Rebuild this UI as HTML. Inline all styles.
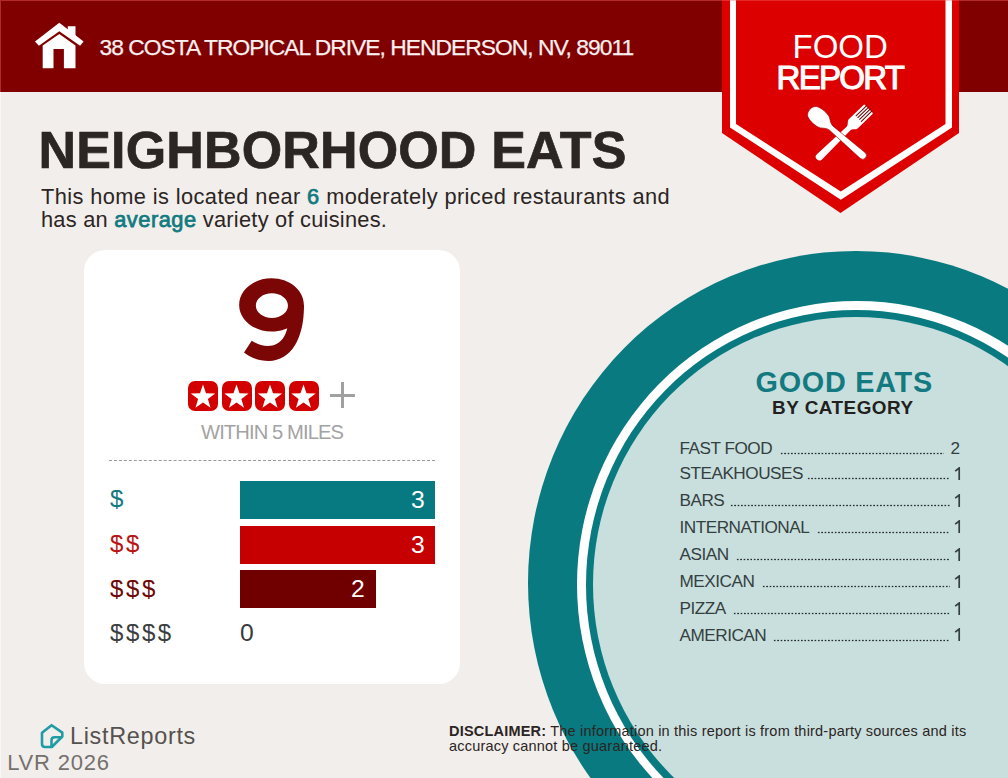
<!DOCTYPE html>
<html><head><meta charset="utf-8">
<style>
html,body{margin:0;padding:0;}
body{width:1008px;height:778px;overflow:hidden;position:relative;background:#f2eeeb;font-family:"Liberation Sans",sans-serif;}
.a{position:absolute;white-space:nowrap;line-height:1;}
#hdr{position:absolute;left:0;top:0;width:1008px;height:91.5px;background:#800000;}
#addr{left:99.5px;top:35.5px;font-size:22.8px;color:#fbf0f0;letter-spacing:-0.97px;-webkit-text-stroke:0.25px #fbf0f0;}
#title{left:38.5px;top:124px;letter-spacing:0.15px;font-size:52px;font-weight:bold;color:#2b2523;-webkit-text-stroke:0.7px #2b2523;}
.sub{left:41px;font-size:21.8px;color:#2b2523;letter-spacing:0.4px;}
.tl{color:#127a80;-webkit-text-stroke:0.75px #127a80;letter-spacing:0.5px;}
#card{position:absolute;left:84px;top:250px;width:376px;height:434px;background:#fff;border-radius:21px;}
.star{position:absolute;top:381px;width:30px;height:30px;background:#d20000;border-radius:7px;}
#plus1{position:absolute;left:330px;top:394px;width:25px;height:3px;background:#a0a0a0;}
#plus2{position:absolute;left:341px;top:382px;width:3px;height:26px;background:#a0a0a0;}
#within{left:201px;top:421.5px;font-size:20.2px;color:#a3a3a3;letter-spacing:-0.9px;}
#dash{position:absolute;left:109px;top:460px;width:326px;height:0;border-top:1.5px dashed #999;}
.bar{position:absolute;left:240px;height:38px;}
.bn{position:absolute;font-size:24.7px;color:#fff;line-height:1;}
.dl{left:110px;font-size:24px;letter-spacing:2.6px;}
#circ{position:absolute;left:527.5px;top:250.7px;width:656px;height:664.4px;border-radius:50%;background:#087a80;}
#ring{position:absolute;left:576.7px;top:301px;width:560px;height:567.4px;border-radius:50%;background:#fff;}
#ring2{position:absolute;left:585.8px;top:309.9px;width:540.4px;height:549.8px;border-radius:50%;background:#087a80;}
#fill{position:absolute;left:593.3px;top:317.3px;width:526px;height:535px;border-radius:50%;background:#c9dfdd;}
#ge{left:755.5px;top:368px;font-size:28.8px;font-weight:bold;color:#127a80;letter-spacing:0.75px;}
#bc{left:772px;top:398.5px;font-size:18.9px;font-weight:bold;color:#231f20;letter-spacing:0.5px;}
.ln{font-size:17.2px;color:#344040;letter-spacing:-0.5px;}
.dt{position:absolute;height:3px;background-image:radial-gradient(circle at 1.7px 1.5px,#243030 0.7px,rgba(36,48,48,0) 1.15px);background-size:3.4px 3px;}
#disc{left:449px;top:724px;font-size:14.5px;letter-spacing:0.2px;color:#2b2523;line-height:15.3px;}
#lr{left:70px;top:725.3px;font-size:23.4px;color:#55514e;letter-spacing:0.7px;}
#lvr{left:7.2px;top:752px;font-size:22px;color:#74716d;letter-spacing:0.8px;}
</style></head><body>
<div id="hdr"></div>

<svg style="position:absolute;left:0;top:0" width="100" height="91">
<g fill="#fff">
<polygon points="59.3,22.7 83.6,41.6 80.1,45.8 59.3,31.2 38.9,45.8 35,41.6"/>
<polygon points="67.8,26.2 75.5,26.2 75.5,36.5 67.8,30.5"/>
<path d="M42.7,45.5 L59.3,33.9 L75.5,45.5 L75.5,68.2 L63.9,68.2 L63.9,48.9 L53.5,48.9 L53.5,68.2 L42.7,68.2 Z"/>
</g></svg>
<div class="a" id="addr">38 COSTA TROPICAL DRIVE, HENDERSON, NV, 89011</div>

<svg style="position:absolute;left:700px;top:0" width="280" height="230">
<polygon points="22,0 259,0 259,133 140.5,213 22,133" fill="#dc0000"/>
<polygon points="30,0 252,0 252,127.4 140.8,199.7 30,127.4" fill="#fff"/>
<polygon points="36,0 245.5,0 245.5,124 140.8,191.6 36,124" fill="#dc0000"/>
</svg>
<div class="a" style="left:792.5px;top:30.4px;font-size:33px;color:#fff;">FOOD</div>
<div class="a" style="left:776.5px;top:61px;font-size:33px;color:#fff;letter-spacing:-1.7px;-webkit-text-stroke:1.1px #fff;">REPORT</div>
<svg style="position:absolute;left:800px;top:100px" width="80" height="65">
<g fill="#fff" transform="translate(19.4,56.8) rotate(-44.2)">
<path d="M0,-3.6 L40.5,-2.6 C43.5,-2.6 44.5,-6.4 47.5,-6.4 L67.8,-6.4 Q68.8,-6.4 68.8,-5.4 L68.8,5.4 Q68.8,6.4 67.8,6.4 L47.5,6.4 C44.5,6.4 43.5,2.6 40.5,2.6 L0,3.6 A3.6,3.6 0 0 1 0,-3.6 Z"/>
<g stroke="#6a0000" stroke-width="1"><line x1="54.5" y1="-3.8" x2="70" y2="-3.8"/><line x1="54.5" y1="-1.27" x2="70" y2="-1.27"/><line x1="54.5" y1="1.27" x2="70" y2="1.27"/><line x1="54.5" y1="3.8" x2="70" y2="3.8"/></g>
</g>
<g fill="#fff" stroke="#a00000" stroke-width="0.6" transform="translate(62.6,55.4) rotate(-139)">
<path d="M0,-3.8 L41.5,-2.7 C44.5,-2.7 46.5,-4.5 50,-7 C54,-9 63,-9 67,-6.5 C71,-3.8 71,3.8 67,6.5 C63,9 54,9 50,7 C46.5,4.5 44.5,2.7 41.5,2.7 L0,3.8 A3.8,3.8 0 0 1 0,-3.8 Z"/>
</g>
</svg>

<div class="a" id="title">NEIGHBORHOOD EATS</div>
<div class="a sub" style="top:186px">This home is located near <span class="tl">6</span> moderately priced restaurants and</div>
<div class="a sub" style="top:209px;letter-spacing:0.25px">has an <span class="tl">average</span> variety of cuisines.</div>

<div id="card"></div>
<svg style="position:absolute;left:225px;top:270px" width="95" height="100"><g transform="scale(0.12853)" fill="#7b0606" fill-rule="evenodd">
<path d="M362,65 C501,65 614,158 614,272 C614,386 501,479 362,479 C223,479 110,386 110,272 C110,158 223,65 362,65 Z M365,180 C296,180 240,223 240,277 C240,331 296,374 365,374 C434,374 490,331 490,277 C490,223 434,180 365,180 Z"/>
<path d="M614,272 C618,520 520,708 340,708 C270,708 200,684 148,642 L208,550 C250,578 290,592 335,592 C430,592 492,510 492,380 L490,277 Z"/>
</g></svg>
<div class="star" style="left:188px"></div>
<div class="star" style="left:221.5px"></div>
<div class="star" style="left:255px"></div>
<div class="star" style="left:288.5px"></div>
<svg style="position:absolute;left:188px;top:381px" width="131" height="30">
<defs><polygon id="st" points="15.00,3.60 18.01,12.26 27.17,12.44 19.87,17.98 22.52,26.76 15.00,21.52 7.48,26.76 10.13,17.98 2.83,12.44 11.99,12.26" fill="#fff"/></defs>
<use href="#st" x="0"/><use href="#st" x="33.5"/><use href="#st" x="67"/><use href="#st" x="100.5"/>
</svg>
<div id="plus1"></div><div id="plus2"></div>
<div class="a" id="within">WITHIN 5 MILES</div>
<div id="dash"></div>

<div class="bar" style="top:481px;width:195px;background:#067a80"></div>
<div class="bar" style="top:526px;width:195px;background:#c60000"></div>
<div class="bar" style="top:570px;width:136px;background:#700000"></div>
<div class="bn" style="left:411px;top:488px">3</div>
<div class="bn" style="left:411px;top:533px">3</div>
<div class="bn" style="left:351px;top:577px">2</div>
<div class="a dl" style="top:487px;color:#127a80">$</div>
<div class="a dl" style="top:532px;color:#b81414">$$</div>
<div class="a dl" style="top:577px;color:#6e0808">$$$</div>
<div class="a dl" style="top:621px;color:#3b3f3f">$$$$</div>
<div class="a" style="left:240px;top:621px;font-size:24.7px;color:#3a3a3a">0</div>

<div id="circ"></div><div id="ring"></div><div id="ring2"></div><div id="fill"></div>
<div class="a" id="ge">GOOD EATS</div>
<div class="a" id="bc">BY CATEGORY</div>
<div class="a ln" style="left:679.5px;top:439.9px">FAST FOOD</div><div class="dt" style="left:780.0px;width:164.0px;top:451.9px"></div><div class="a ln" style="left:950.5px;top:439.9px">2</div>
<div class="a ln" style="left:679.5px;top:465.2px">STEAKHOUSES</div><div class="dt" style="left:807.0px;width:142.8px;top:477.2px"></div><svg style="position:absolute;left:953.5px;top:466.8px" width="8" height="14"><path d="M1.2,4.2 L5.2,1 L5.2,13" fill="none" stroke="#344040" stroke-width="1.7" stroke-linejoin="miter"/></svg>
<div class="a ln" style="left:679.5px;top:492.0px">BARS</div><div class="dt" style="left:729.5px;width:220.3px;top:504.0px"></div><svg style="position:absolute;left:953.5px;top:493.6px" width="8" height="14"><path d="M1.2,4.2 L5.2,1 L5.2,13" fill="none" stroke="#344040" stroke-width="1.7" stroke-linejoin="miter"/></svg>
<div class="a ln" style="left:679.5px;top:518.8px">INTERNATIONAL</div><div class="dt" style="left:817.3px;width:132.5px;top:530.8px"></div><svg style="position:absolute;left:953.5px;top:520.4px" width="8" height="14"><path d="M1.2,4.2 L5.2,1 L5.2,13" fill="none" stroke="#344040" stroke-width="1.7" stroke-linejoin="miter"/></svg>
<div class="a ln" style="left:679.5px;top:546.3px">ASIAN</div><div class="dt" style="left:735.5px;width:214.3px;top:558.3px"></div><svg style="position:absolute;left:953.5px;top:547.9px" width="8" height="14"><path d="M1.2,4.2 L5.2,1 L5.2,13" fill="none" stroke="#344040" stroke-width="1.7" stroke-linejoin="miter"/></svg>
<div class="a ln" style="left:679.5px;top:573.1px">MEXICAN</div><div class="dt" style="left:762.3px;width:187.5px;top:585.1px"></div><svg style="position:absolute;left:953.5px;top:574.7px" width="8" height="14"><path d="M1.2,4.2 L5.2,1 L5.2,13" fill="none" stroke="#344040" stroke-width="1.7" stroke-linejoin="miter"/></svg>
<div class="a ln" style="left:679.5px;top:599.9px">PIZZA</div><div class="dt" style="left:732.5px;width:217.3px;top:611.9px"></div><svg style="position:absolute;left:953.5px;top:601.5px" width="8" height="14"><path d="M1.2,4.2 L5.2,1 L5.2,13" fill="none" stroke="#344040" stroke-width="1.7" stroke-linejoin="miter"/></svg>
<div class="a ln" style="left:679.5px;top:626.7px">AMERICAN</div><div class="dt" style="left:772.7px;width:177.1px;top:638.7px"></div><svg style="position:absolute;left:953.5px;top:628.3px" width="8" height="14"><path d="M1.2,4.2 L5.2,1 L5.2,13" fill="none" stroke="#344040" stroke-width="1.7" stroke-linejoin="miter"/></svg>

<div class="a" id="disc"><b>DISCLAIMER:</b> The information in this report is from third-party sources and its<br>accuracy cannot be guaranteed.</div>

<svg style="position:absolute;left:30px;top:715px" width="40" height="40">
<g fill="none" stroke="#1f9ca4" stroke-width="2.6" stroke-linejoin="round">
<path d="M21.6,10.2 L32.3,17.6 L32.3,21.5 L21.8,32 L15,32 Q12,32 12,29 L12,17.8 Z"/>
<path d="M32,22.2 L24.5,22.2 Q21.5,22.2 21.5,25.2 L21.5,32"/>
</g></svg>
<div class="a" id="lr">ListReports</div>
<div class="a" id="lvr">LVR 2026</div>
<div style="position:absolute;left:0;top:0;width:1008px;height:1px;background:rgba(255,110,110,0.38)"></div>
<div style="position:absolute;left:0;top:1px;width:1px;height:91px;background:rgba(255,110,110,0.38)"></div>
<div style="position:absolute;left:0;top:92px;width:1px;height:686px;background:rgba(255,255,255,0.5)"></div>
</body></html>
